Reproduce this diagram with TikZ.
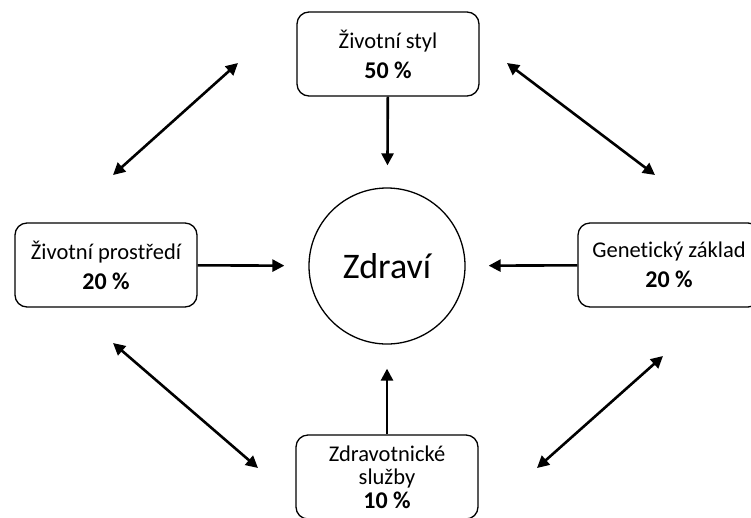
\documentclass[tikz,border=0pt]{standalone}
\usepackage{fontspec}
\setmainfont{Carlito}[Ligatures=NoCommon]
\usetikzlibrary{arrows.meta}

\newcommand{\share}[1]{{\fontsize{24}{30}\selectfont\bfseries #1}}

\tikzset{
  factor/.style={draw, rounded corners=12pt, line width=1.3pt,
    minimum width=182pt, minimum height=84pt, inner sep=0pt,
    align=center, font=\fontsize{22.5}{30}\selectfont},
  link/.style={line width=2.6pt, -{Triangle[length=12pt,width=12pt]}},
  twoway/.style={line width=2.6pt,
    {Triangle[length=12pt,width=12pt]}-{Triangle[length=12pt,width=12pt]}}
}

\begin{document}
\begin{tikzpicture}[x=1pt, y=-1pt]
  \useasboundingbox (0,0) rectangle (751,517);

  % central node
  \node[draw, circle, line width=1.3pt, minimum size=156pt,
        font=\fontsize{36}{40}\selectfont] (zdravi) at (387,266) {Zdraví};

  % factors
  \node[factor] (styl) at (388,54) {Životní styl\\\share{50 \%}};
  \node[factor] (prostredi) at (106,265) {Životní prostředí\\\share{20 \%}};
  \node[factor] (geny) at (669,265) {Genetický základ\\\share{20 \%}};
  \node[factor, font=\fontsize{22.5}{23.5}\selectfont] (sluzby) at (387,477)
    {Zdravotnické\\služby\\\share{10 \%}};

  % influences on health
  \draw[link, shorten >=22pt] (styl) -- (zdravi);
  \draw[link, shorten >=24pt] (prostredi) -- (zdravi);
  \draw[link, shorten >=23pt] (geny) -- (zdravi);
  \draw[link, shorten >=24pt] (sluzby) -- (zdravi);

  % mutual links between factors
  \coordinate (nwA) at (113,175);
  \coordinate (nwB) at (238,63);
  \coordinate (neA) at (507,63);
  \coordinate (neB) at (655,175);
  \coordinate (swA) at (113,343);
  \coordinate (swB) at (258,468);
  \coordinate (seA) at (537,468);
  \coordinate (seB) at (663,356);
  \draw[twoway] (nwA) -- (nwB);
  \draw[twoway] (neA) -- (neB);
  \draw[twoway] (swA) -- (swB);
  \draw[twoway] (seA) -- (seB);
\end{tikzpicture}
\end{document}
